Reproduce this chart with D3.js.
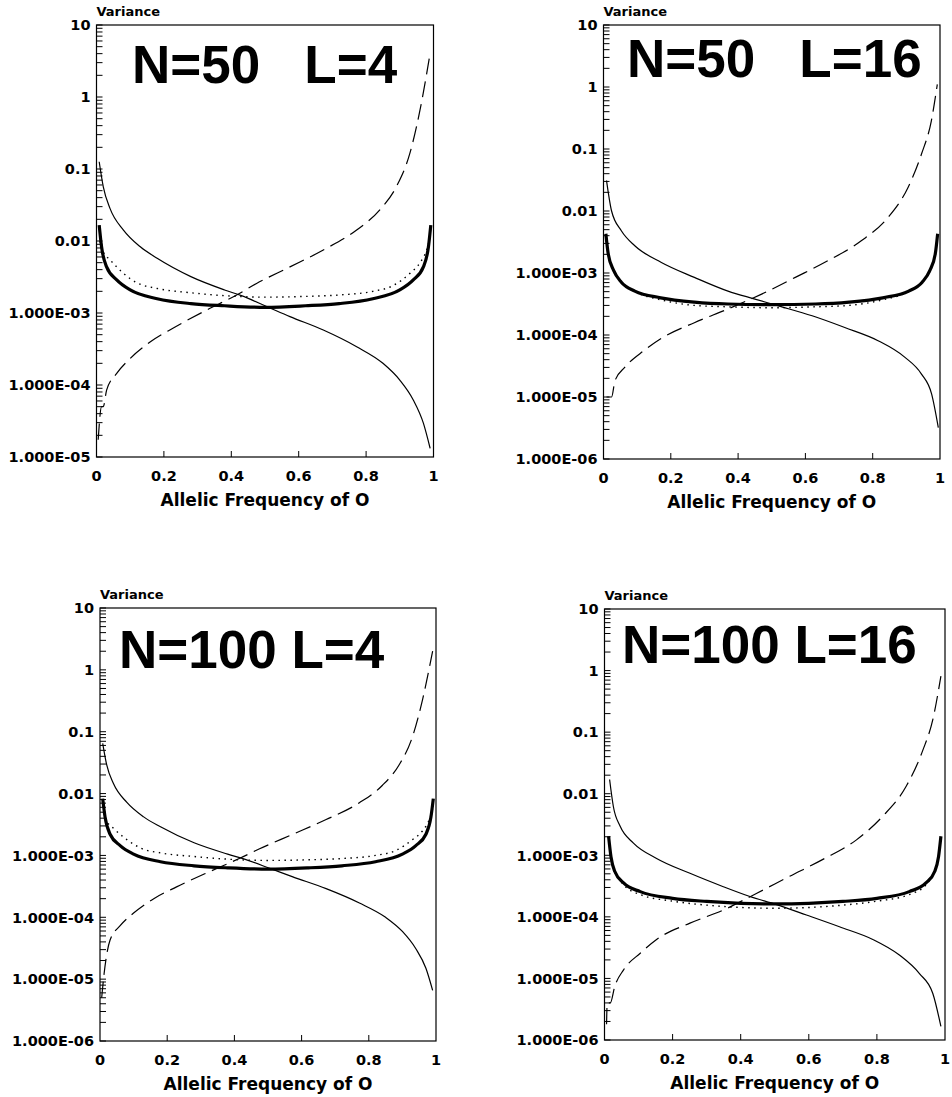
<!DOCTYPE html>
<html>
<head>
<meta charset="utf-8">
<script src="https://cdn.jsdelivr.net/npm/d3@7"></script>
<style>
  body { margin: 0; background: #fff; }
  text { fill: #000; }
  .lbl { font-family: "DejaVu Sans", sans-serif; font-weight: bold; font-size: 14.5px; }
  .var { font-family: "DejaVu Sans", sans-serif; font-weight: bold; font-size: 13px; }
  .ttl { font-family: "DejaVu Sans", sans-serif; font-weight: bold; font-size: 17px; }
  .big { font-family: "Liberation Sans", Arial, sans-serif; font-weight: bold; font-size: 53px; white-space: pre; }
</style>
</head>
<body>
<svg id="chart" width="952" height="1097"></svg>
<script>
// ------ DATA ------
// each curve: [allelic frequency, variance]

// N=50 L=4
const tlThin = [[0.008,1.26e-1],[0.02,5.7e-2],[0.04,2.84e-2],[0.08,1.42e-2],[0.13,8.3e-3],[0.18,5.75e-3],[0.28,3.2e-3],[0.38,2.09e-3],[0.43,1.74e-3],[0.505,1.23e-3],[0.574,8.9e-4],[0.673,5.8e-4],[0.772,3.4e-4],[0.85,2.0e-4],[0.90,1.17e-4],[0.94,6.2e-5],[0.97,2.95e-5],[0.99,1.32e-5]];
const tlDash = [[0.005,1.74e-5],[0.015,5.0e-5],[0.02,5.0e-5],[0.03,8.5e-5],[0.06,1.45e-4],[0.1,2.34e-4],[0.16,3.98e-4],[0.228,6.2e-4],[0.327,1.1e-3],[0.416,1.78e-3],[0.475,2.57e-3],[0.574,4.37e-3],[0.673,7.5e-3],[0.772,1.42e-2],[0.84,2.69e-2],[0.89,5.7e-2],[0.93,1.66e-1],[0.96,6.6e-1],[0.98,2.14],[0.99,4.07]];
const tlThick = [[0.008,1.66e-2],[0.015,8.3e-3],[0.03,4.37e-3],[0.06,2.88e-3],[0.1,2.09e-3],[0.18,1.58e-3],[0.28,1.35e-3],[0.38,1.26e-3],[0.5,1.2e-3],[0.62,1.26e-3],[0.72,1.35e-3],[0.82,1.58e-3],[0.9,2.09e-3],[0.94,2.88e-3],[0.97,4.37e-3],[0.985,8.3e-3],[0.992,1.66e-2]];
const tlDot = [[0.01,1.0e-2],[0.02,7.1e-3],[0.04,5.5e-3],[0.08,3.55e-3],[0.12,2.63e-3],[0.18,2.19e-3],[0.28,1.91e-3],[0.38,1.74e-3],[0.5,1.66e-3],[0.62,1.7e-3],[0.72,1.78e-3],[0.82,2.0e-3],[0.88,2.4e-3],[0.93,3.55e-3],[0.96,5.0e-3],[0.98,7.6e-3],[0.99,1.12e-2]];

// N=50 L=16
const trThin = [[0.009,3.1e-2],[0.024,1.0e-2],[0.053,4.8e-3],[0.093,2.75e-3],[0.172,1.48e-3],[0.27,8.5e-4],[0.37,5.1e-4],[0.45,3.8e-4],[0.52,2.95e-4],[0.62,2.04e-4],[0.717,1.32e-4],[0.816,8.1e-5],[0.895,4.4e-5],[0.945,2.34e-5],[0.975,1.12e-5],[0.995,3.2e-6]];
const trDash = [[0.009,1.0e-5],[0.024,1.0e-5],[0.034,1.82e-5],[0.063,3.0e-5],[0.12,5.6e-5],[0.17,8.7e-5],[0.27,1.58e-4],[0.37,2.63e-4],[0.47,4.57e-4],[0.57,8.5e-4],[0.667,1.58e-3],[0.766,3.3e-3],[0.846,7.9e-3],[0.905,2.4e-2],[0.945,8.3e-2],[0.974,2.8e-1],[0.992,1.1]];
const trThick = [[0.007,4.3e-3],[0.014,2.04e-3],[0.03,1.1e-3],[0.053,7.1e-4],[0.093,5.1e-4],[0.17,3.98e-4],[0.27,3.39e-4],[0.37,3.16e-4],[0.5,3.09e-4],[0.63,3.16e-4],[0.73,3.39e-4],[0.83,3.98e-4],[0.907,5.1e-4],[0.947,7.1e-4],[0.97,1.1e-3],[0.986,2.04e-3],[0.993,4.3e-3]];
const trDot = [[0.03,1.05e-3],[0.06,6.5e-4],[0.1,4.8e-4],[0.17,3.7e-4],[0.27,3.0e-4],[0.37,2.85e-4],[0.5,2.75e-4],[0.63,2.85e-4],[0.73,3.0e-4],[0.83,3.7e-4],[0.9,4.8e-4],[0.94,6.5e-4],[0.97,1.05e-3]];

// N=100 L=4
const blThin = [[0.008,6.5e-2],[0.02,2.9e-2],[0.04,1.45e-2],[0.08,7.2e-3],[0.13,4.2e-3],[0.18,2.9e-3],[0.28,1.6e-3],[0.38,1.05e-3],[0.43,8.7e-4],[0.505,6.2e-4],[0.574,4.5e-4],[0.673,2.9e-4],[0.772,1.7e-4],[0.85,1.0e-4],[0.90,5.9e-5],[0.94,3.1e-5],[0.97,1.5e-5],[0.99,6.6e-6]];
const blDash = [[0.005,5.0e-6],[0.012,1.2e-5],[0.02,2.5e-5],[0.03,4.3e-5],[0.06,7.3e-5],[0.1,1.17e-4],[0.16,2.0e-4],[0.228,3.1e-4],[0.327,5.5e-4],[0.416,9.0e-4],[0.475,1.28e-3],[0.574,2.2e-3],[0.673,3.8e-3],[0.772,7.1e-3],[0.84,1.35e-2],[0.89,2.9e-2],[0.93,8.3e-2],[0.96,3.3e-1],[0.98,1.07],[0.99,2.0]];
const blThick = [[0.008,8.3e-3],[0.015,4.2e-3],[0.03,2.2e-3],[0.06,1.44e-3],[0.1,1.05e-3],[0.18,7.9e-4],[0.28,6.8e-4],[0.38,6.3e-4],[0.5,6.0e-4],[0.62,6.3e-4],[0.72,6.8e-4],[0.82,7.9e-4],[0.9,1.05e-3],[0.94,1.44e-3],[0.97,2.2e-3],[0.985,4.2e-3],[0.992,8.3e-3]];
const blDot = [[0.01,5.0e-3],[0.02,3.6e-3],[0.04,2.75e-3],[0.08,1.8e-3],[0.12,1.32e-3],[0.18,1.1e-3],[0.28,9.6e-4],[0.38,8.7e-4],[0.5,8.3e-4],[0.62,8.5e-4],[0.72,8.9e-4],[0.82,1.0e-3],[0.88,1.2e-3],[0.93,1.8e-3],[0.96,2.5e-3],[0.98,3.8e-3],[0.99,5.6e-3]];

// N=100 L=16
const brThin = [[0.015,1.7e-2],[0.026,6.2e-3],[0.046,2.95e-3],[0.085,1.58e-3],[0.153,8.9e-4],[0.251,5.1e-4],[0.349,3.09e-4],[0.427,2.14e-4],[0.505,1.58e-4],[0.593,1.07e-4],[0.69,6.9e-5],[0.788,4.3e-5],[0.866,2.4e-5],[0.925,1.2e-5],[0.964,5.75e-6],[0.988,1.66e-6]];
const brDash = [[0.006,1.8e-6],[0.008,4.0e-6],[0.017,4.0e-6],[0.03,7.4e-6],[0.056,1.38e-5],[0.105,2.57e-5],[0.153,4.3e-5],[0.251,7.9e-5],[0.349,1.29e-4],[0.446,2.4e-4],[0.544,4.57e-4],[0.64,8.5e-4],[0.74,1.78e-3],[0.817,4.3e-3],[0.886,1.32e-2],[0.935,5.1e-2],[0.964,1.58e-1],[0.988,8.1e-1]];
const brThick = [[0.012,2.04e-3],[0.019,9.5e-4],[0.03,5.5e-4],[0.056,3.55e-4],[0.105,2.57e-4],[0.2,2.0e-4],[0.3,1.78e-4],[0.4,1.66e-4],[0.5,1.62e-4],[0.6,1.66e-4],[0.7,1.78e-4],[0.8,2.0e-4],[0.895,2.57e-4],[0.944,3.55e-4],[0.97,5.5e-4],[0.981,9.5e-4],[0.988,2.04e-3]];
const brDot = [[0.03,5.3e-4],[0.056,3.3e-4],[0.105,2.3e-4],[0.2,1.8e-4],[0.3,1.55e-4],[0.4,1.42e-4],[0.5,1.38e-4],[0.6,1.42e-4],[0.7,1.55e-4],[0.8,1.8e-4],[0.895,2.3e-4],[0.944,3.3e-4],[0.97,5.3e-4]];

const xTicks = [0, 0.2, 0.4, 0.6, 0.8, 1];
const xTickLabels = ["0", "0.2", "0.4", "0.6", "0.8", "1"];

// ------ PANEL LAYOUT ------
const panels = [
  { title: "N=50   L=4",  left: 96.5, right: 433.5, top: 25,  bottom: 457,  yMin: 1e-5, titleX: 132, titleY: 83,
    curves: [tlThin, tlDash, tlThick, tlDot] },
  { title: "N=50   L=16", left: 603.5, right: 940, top: 25,  bottom: 459,  yMin: 1e-6, titleX: 627, titleY: 77,
    curves: [trThin, trDash, trThick, trDot] },
  { title: "N=100 L=4",   left: 100, right: 436, top: 608, bottom: 1041, yMin: 1e-6, titleX: 119, titleY: 668,
    curves: [blThin, blDash, blThick, blDot] },
  { title: "N=100 L=16",  left: 604.5, right: 945, top: 609, bottom: 1040, yMin: 1e-6, titleX: 622, titleY: 663,
    curves: [brThin, brDash, brThick, brDot] }
];

// thin solid, dashed, thick solid, dotted
const curveStyles = [
  { width: 1.2, dash: null },
  { width: 1.2, dash: "16,7" },
  { width: 3.2, dash: null },
  { width: 1.4, dash: "1.5,4.5" }
];

function yLabel(v) {
  if (v >= 0.01) return String(+v.toPrecision(1));
  return "1.000E-" + String(Math.round(-Math.log10(v))).padStart(2, "0");
}

const svg = d3.select("#chart");

panels.forEach(function(p) {
  const g = svg.append("g");

  const x = d3.scaleLinear().domain([0, 1]).range([p.left, p.right]);
  const y = d3.scaleLog().domain([p.yMin, 10]).range([p.bottom, p.top]);

  // frame
  g.append("rect")
    .attr("x", p.left).attr("y", p.top)
    .attr("width", p.right - p.left).attr("height", p.bottom - p.top)
    .attr("fill", "none").attr("stroke", "#000").attr("stroke-width", 1.2);

  // y ticks (major + minor, pointing inward)
  const yt = y.ticks();
  g.selectAll(".ytick").data(yt).join("line")
    .attr("x1", p.left).attr("x2", p.left + 6)
    .attr("y1", d => y(d)).attr("y2", d => y(d))
    .attr("stroke", "#000").attr("stroke-width", 1);

  const majors = yt.filter(d => Math.abs(Math.log10(d) - Math.round(Math.log10(d))) < 1e-9);
  g.selectAll(".ylab").data(majors).join("text")
    .attr("class", "lbl")
    .attr("x", p.left - 6).attr("y", d => y(d))
    .attr("dy", "0.36em")
    .attr("text-anchor", "end")
    .text(yLabel);

  // x ticks
  g.selectAll(".xtick").data(xTicks.slice(1, -1)).join("line")
    .attr("x1", d => x(d)).attr("x2", d => x(d))
    .attr("y1", p.bottom).attr("y2", p.bottom - 6)
    .attr("stroke", "#000").attr("stroke-width", 1);

  g.selectAll(".xlab").data(xTicks).join("text")
    .attr("class", "lbl")
    .attr("x", d => x(d)).attr("y", p.bottom + 24)
    .attr("text-anchor", "middle")
    .text((d, i) => xTickLabels[i]);

  // axis titles
  g.append("text").attr("class", "ttl")
    .attr("x", (p.left + p.right) / 2).attr("y", p.bottom + 49)
    .attr("text-anchor", "middle")
    .text("Allelic Frequency of O");

  g.append("text").attr("class", "var")
    .attr("x", p.left).attr("y", p.top - 9)
    .text("Variance");

  // big panel title
  g.append("text").attr("class", "big")
    .attr("x", p.titleX).attr("y", p.titleY)
    .text(p.title);

  // curves
  const line = d3.line()
    .x(d => x(d[0]))
    .y(d => y(d[1]))
    .curve(d3.curveMonotoneX);

  p.curves.forEach(function(c, i) {
    g.append("path")
      .datum(c)
      .attr("d", line)
      .attr("fill", "none")
      .attr("stroke", "#000")
      .attr("stroke-width", curveStyles[i].width)
      .attr("stroke-dasharray", curveStyles[i].dash);
  });
});
</script>
</body>
</html>
